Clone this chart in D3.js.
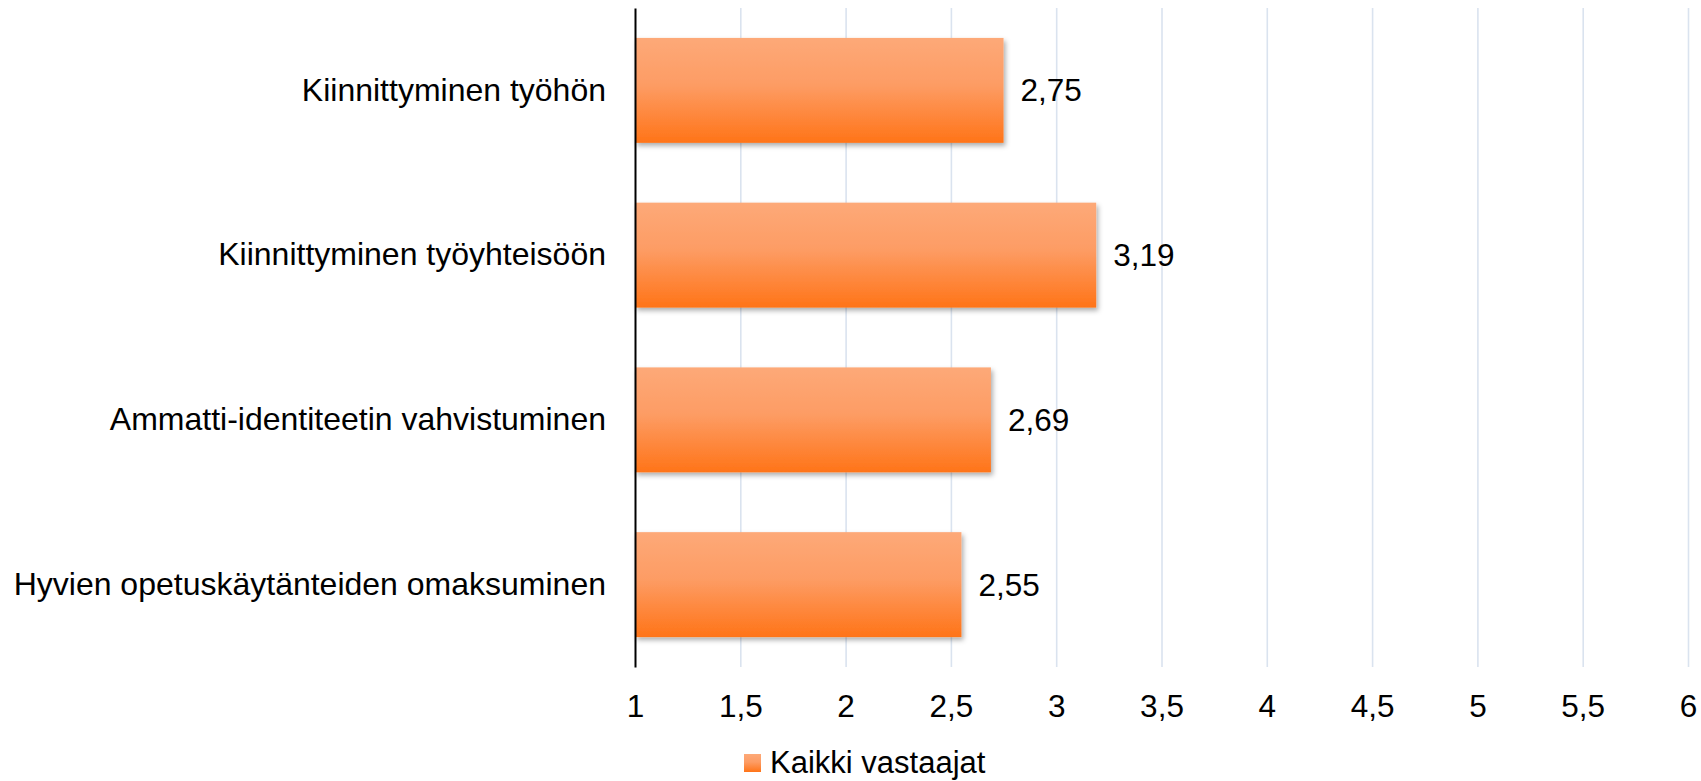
<!DOCTYPE html>
<html>
<head>
<meta charset="utf-8">
<style>
  body { margin: 0; background: #fff; }
  text { font-family: "Liberation Sans", Arial, sans-serif; fill: #000; }
</style>
</head>
<body>
  <div id="chart"></div>
  <script src="https://d3js.org/d3.v7.min.js"></script>
  <script>
    // chart data
    var categories = [
      "Kiinnittyminen työhön",
      "Kiinnittyminen työyhteisöön",
      "Ammatti-identiteetin vahvistuminen",
      "Hyvien opetuskäytänteiden omaksuminen"
    ];
    var values = [2.75, 3.19, 2.69, 2.55];
    var xTicks = [1, 1.5, 2, 2.5, 3, 3.5, 4, 4.5, 5, 5.5, 6];
    var seriesName = "Kaikki vastaajat";

    // dimensions
    var W = 1701, H = 781;
    var margin = { top: 8, right: 13, bottom: 114, left: 635 };
    var width = W - margin.left - margin.right,
      height = H - margin.top - margin.bottom;
    var fontSize = 31.5;

    // comma decimal separator (Finnish)
    var fmt = function(d) { return String(d).replace(".", ","); };
    var fmt2 = function(d) { return d3.format(".2f")(d).replace(".", ","); };

    var x = d3.scaleLinear()
      .domain([1, 6])
      .range([0, width]);

    var y = d3.scaleBand()
      .domain(categories)
      .range([0, height])
      .paddingInner(0.363)
      .paddingOuter(0.1815);

    var svg = d3.select("#chart")
      .append("svg")
      .attr("width", W)
      .attr("height", H);

    var defs = svg.append("defs");

    // vertical gradient of the bars
    var grad = defs.append("linearGradient")
      .attr("id", "barGrad")
      .attr("x1", 0).attr("y1", 0)
      .attr("x2", 0).attr("y2", 1);
    grad.append("stop").attr("offset", "0%").attr("stop-color", "#fda978");
    grad.append("stop").attr("offset", "45%").attr("stop-color", "#fd9c64");
    grad.append("stop").attr("offset", "100%").attr("stop-color", "#ff7418");

    // soft shadow under the bars
    var shadow = defs.append("filter")
      .attr("id", "shadow")
      .attr("x", "-5%").attr("y", "-10%")
      .attr("width", "115%").attr("height", "130%");
    shadow.append("feDropShadow")
      .attr("dx", 2).attr("dy", 3)
      .attr("stdDeviation", 2.5)
      .attr("flood-color", "#000")
      .attr("flood-opacity", 0.32);

    var g = svg.append("g")
      .attr("transform", "translate(" + margin.left + "," + margin.top + ")");

    // gridlines
    g.append("g")
      .attr("class", "grid")
      .attr("transform", "translate(0," + height + ")")
      .call(d3.axisBottom(x)
        .tickValues(xTicks.slice(1))
        .tickSize(-height)
        .tickFormat(""))
      .call(function(s) { s.select(".domain").remove(); })
      .selectAll("line")
      .attr("stroke", "#dae3ef")
      .attr("stroke-width", 1.6);

    // bars
    g.selectAll(".bar")
      .data(values)
      .enter()
      .append("rect")
      .attr("class", "bar")
      .attr("x", x(1))
      .attr("y", function(d, i) { return y(categories[i]); })
      .attr("width", function(d) { return x(d) - x(1); })
      .attr("height", y.bandwidth())
      .attr("fill", "url(#barGrad)")
      .attr("filter", "url(#shadow)");

    // value labels
    g.selectAll(".val")
      .data(values)
      .enter()
      .append("text")
      .attr("class", "val")
      .attr("x", function(d) { return x(d) + 17; })
      .attr("y", function(d, i) { return y(categories[i]) + y.bandwidth() / 2; })
      .attr("dy", "0.35em")
      .style("font-size", fontSize + "px")
      .text(fmt2);

    // x axis labels
    var xAxis = g.append("g")
      .attr("transform", "translate(0," + height + ")")
      .call(d3.axisBottom(x)
        .tickValues(xTicks)
        .tickSize(0)
        .tickPadding(28)
        .tickFormat(fmt));
    xAxis.select(".domain").remove();
    xAxis.selectAll("text")
      .style("font-size", fontSize + "px")
      .attr("fill", "#000")
      .style("font-family", "'Liberation Sans', Arial, sans-serif");

    // y axis with category labels
    var yAxis = g.append("g")
      .call(d3.axisLeft(y)
        .tickSize(0)
        .tickSizeOuter(0)
        .tickPadding(29));
    yAxis.select(".domain")
      .attr("stroke", "#000")
      .attr("stroke-width", 2);
    yAxis.selectAll("text")
      .style("font-size", "32px")
      .attr("fill", "#000")
      .style("font-family", "'Liberation Sans', Arial, sans-serif");

    // legend (kept just inside the bottom edge)
    var legend = svg.append("g")
      .attr("transform", "translate(744,754)");
    legend.append("rect")
      .attr("width", 17)
      .attr("height", 18)
      .attr("fill", "url(#barGrad)");
    legend.append("text")
      .attr("x", 26)
      .attr("y", 19)
      .style("font-size", "31px")
      .text(seriesName);
  </script>
</body>
</html>
